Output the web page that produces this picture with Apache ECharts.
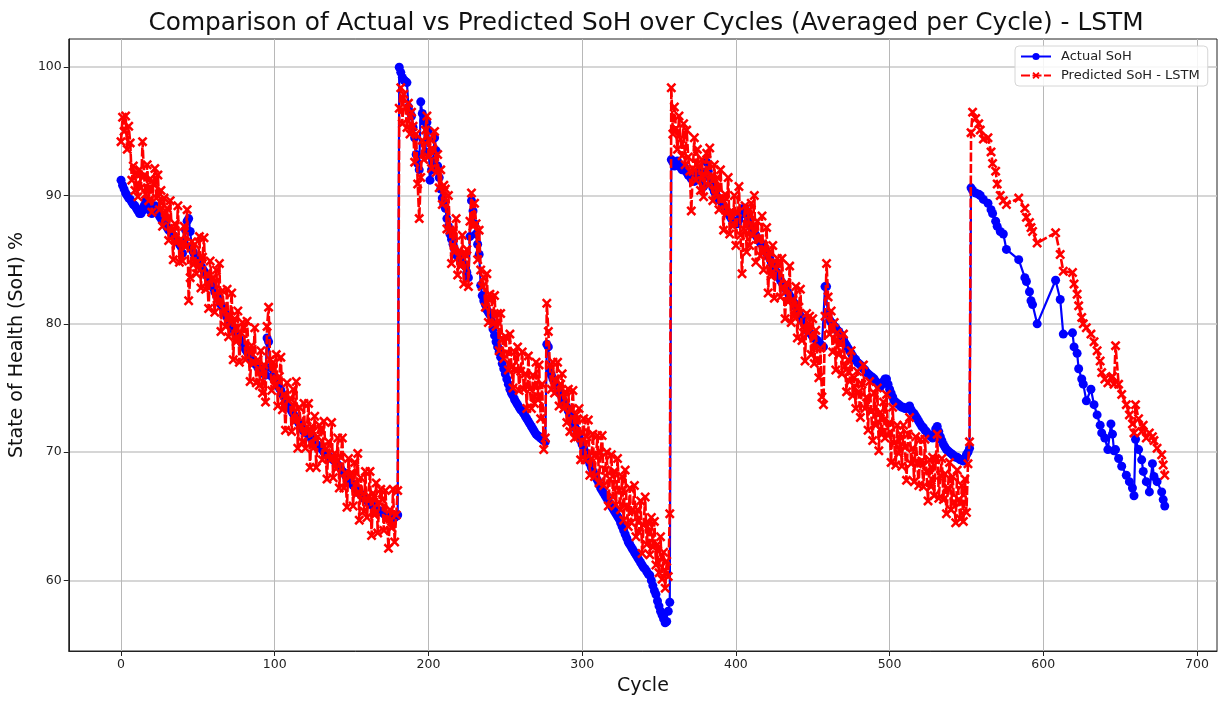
<!DOCTYPE html>
<html>
<head>
<meta charset="utf-8">
<script src="https://cdn.jsdelivr.net/npm/echarts@6/dist/echarts.min.js"></script>
<style>
html,body{margin:0;padding:0;background:#fff;}
#chart{width:1222px;height:706px;}
</style>
</head>
<body>
<div id="chart"></div>
<script>
// ---- Data ----
const xTicks = [0, 100, 200, 300, 400, 500, 600, 700];
const yTicks = [60, 70, 80, 90, 100];

// Segment start cycles (segments 1-3 have one point per cycle)
const seg1Start = 0, seg2Start = 181, seg3Start = 358;

const actualSeg1 = [
91.2,90.8,90.5,90.2,90.0,89.8,89.7,89.5,89.3,89.2,
89.0,88.8,88.6,88.6,88.8,89.2,89.6,89.4,89.0,88.8,
88.6,88.9,89.2,88.9,88.6,88.4,88.2,88.0,87.9,87.7,
87.5,87.3,87.2,87.0,86.9,86.7,86.5,86.4,86.2,86.0,
85.5,86.4,87.3,88.0,88.2,87.2,86.0,85.6,85.3,85.1,
84.9,84.7,84.5,84.3,84.1,83.9,83.7,83.5,83.3,83.1,
82.8,82.5,82.3,82.0,81.8,81.5,81.3,81.0,80.8,80.5,
80.3,80.1,79.9,79.6,79.4,79.2,79.0,78.8,78.6,78.4,
78.2,78.0,77.8,77.6,77.4,77.2,77.1,76.9,76.8,76.6,
76.5,76.4,76.2,76.1,76.0,78.9,78.6,76.6,75.9,75.8,
75.7,75.5,75.3,75.0,74.8,74.5,74.3,74.0,73.8,73.6,
73.4,73.2,73.0,72.8,72.6,72.4,72.2,72.0,71.8,71.6,
71.6,71.5,71.3,71.2,71.0,70.9,70.8,70.6,70.5,70.4,
70.3,70.2,70.0,69.9,69.8,69.7,69.6,69.5,69.4,69.3,
69.2,69.0,68.9,68.7,68.5,68.4,68.2,68.0,67.9,67.7,
67.6,67.4,67.3,67.1,67.0,66.8,66.7,66.6,66.4,66.3,
66.2,66.1,66.0,65.9,65.8,65.7,65.6,65.5,65.4,65.4,
65.3,65.2,65.1,65.0,64.9,64.9,64.8,64.8,64.9,65.0,
65.1];

const predictedSeg1 = [
94.2,96.1,95.0,96.2,93.6,95.4,94.1,91.2,92.3,90.4,
91.8,89.9,92.0,90.6,94.2,91.5,90.1,92.4,89.6,91.3,
88.7,90.9,92.1,89.8,91.6,88.9,90.4,87.6,89.8,88.2,
89.0,86.5,89.6,87.3,85.0,87.8,86.3,89.2,84.8,86.6,
84.9,87.6,86.0,88.9,81.8,83.6,86.4,84.6,86.2,83.9,
84.4,86.8,82.8,85.2,86.7,82.7,83.9,81.2,84.9,83.5,
83.6,80.9,84.2,81.6,84.7,79.4,82.6,81.1,79.8,82.7,
79.0,80.6,82.4,77.2,80.4,78.6,81.0,77.0,79.3,80.1,
79.7,77.2,80.2,77.9,75.5,78.3,76.9,79.7,75.4,77.2,
75.2,77.9,74.6,76.8,73.9,79.8,81.3,77.2,74.8,77.0,
75.2,77.6,73.6,75.9,77.4,73.3,74.5,71.7,75.4,74.0,
74.2,71.6,74.9,72.4,75.5,70.3,73.5,72.1,70.8,73.8,
70.3,72.0,73.8,68.8,72.0,70.3,72.8,68.8,71.2,72.1,
71.8,69.4,72.4,70.2,67.9,70.8,69.4,72.3,68.0,69.9,
68.7,71.1,67.2,69.6,71.1,67.2,68.4,65.7,69.5,68.1,
68.4,65.8,69.2,66.7,69.9,64.7,68.0,66.7,65.4,68.5,
64.9,66.6,68.5,63.5,66.8,65.1,67.6,63.7,66.1,67.1,
66.3,63.9,67.0,64.8,62.5,65.5,64.1,67.1,63.0,65.1,
67.0];

const actualSeg2 = [
100.0,99.6,99.2,99.0,98.9,98.8,96.9,96.5,96.2,95.3,
94.5,93.2,92.5,92.0,97.3,96.4,95.8,93.4,95.7,95.1,
91.2,92.0,92.7,94.5,93.5,92.3,91.4,90.5,89.8,89.3,
89.0,88.2,87.6,87.0,86.6,86.2,85.8,85.4,85.2,85.1,
85.0,84.8,84.6,84.5,84.0,83.6,86.8,89.6,88.8,87.8,
87.0,86.2,85.4,83.0,82.2,81.8,81.5,81.1,80.9,80.7,
80.2,79.6,79.1,78.6,78.2,77.8,77.4,76.9,76.5,76.1,
75.7,75.3,74.9,74.6,74.4,74.1,73.9,73.7,73.5,73.3,
73.2,73.0,72.8,72.6,72.4,72.2,72.0,71.8,71.6,71.4,
71.3,71.2,71.1,71.0,70.9,70.8,78.4,78.2,76.3,76.0,
75.7,75.5,75.2,75.0,74.7,74.5,74.2,74.0,73.7,73.5,
73.2,73.0,72.7,72.4,72.1,71.8,71.5,71.2,70.9,70.6,
70.3,70.0,69.7,69.4,69.1,68.8,68.5,68.3,68.0,67.8,
67.5,67.2,67.0,66.8,66.6,66.4,66.2,66.0,65.8,65.6,
65.4,65.2,65.0,64.8,64.5,64.2,63.9,63.6,63.3,63.0,
62.8,62.6,62.4,62.2,62.0,61.8,61.6,61.4,61.2,61.0,
60.9,60.7,60.5,60.4,60.0,59.6,59.2,58.9,58.4,58.0,
57.6,57.3,57.0,56.7,56.8,57.6,58.3];

const predictedSeg2 = [
96.8,98.4,95.6,97.9,96.9,95.3,97.2,94.8,96.5,95.4,
92.6,94.8,90.9,88.2,91.4,94.3,92.8,95.1,96.2,93.0,
94.4,92.1,93.6,95.0,91.8,93.2,90.6,92.0,89.3,90.8,
90.5,87.4,90.0,87.3,84.7,87.3,85.6,88.2,83.8,85.7,
84.5,86.9,83.1,85.4,85.8,82.9,88.0,90.2,87.6,89.4,
87.8,85.0,87.3,84.2,82.9,83.6,81.3,83.9,80.1,82.3,
82.0,80.0,82.2,79.8,80.8,77.9,80.8,78.8,77.3,79.0,
78.9,76.4,79.2,76.6,75.0,77.8,76.3,78.2,74.8,76.3,
77.8,74.9,76.1,73.4,77.5,74.9,73.4,76.0,73.8,77.0,
74.1,76.8,72.6,75.3,70.2,71.1,81.6,79.4,76.8,74.9,
77.0,74.6,75.6,77.0,73.6,75.3,76.1,73.4,74.7,72.3,
74.9,71.6,73.3,74.8,71.1,72.9,71.2,73.4,69.4,71.5,
72.6,69.4,71.2,72.5,68.2,69.5,71.4,68.1,69.8,71.3,
67.6,70.0,71.3,67.4,68.6,70.0,65.8,67.9,69.8,66.5,
68.5,65.9,69.5,67.0,65.5,68.1,64.7,68.6,65.7,64.2,
67.2,64.5,65.5,67.4,63.4,65.5,63.8,66.2,62.1,64.3,
66.5,62.8,64.5,62.0,64.9,62.6,64.6,61.2,62.8,60.6,
63.4,60.1,62.2,59.4,61.5,60.3,65.2];

const actualSeg3 = [
92.8,92.6,92.3,92.5,92.7,92.4,92.2,92.0,92.3,92.1,
91.8,91.6,91.5,91.3,91.2,91.1,91.4,91.7,91.9,91.9,
91.2,90.7,91.8,92.6,91.9,91.4,91.0,90.6,90.3,90.1,
89.9,89.7,89.6,89.4,89.2,89.0,88.8,88.6,88.4,88.2,
88.1,87.9,87.8,87.8,88.1,88.5,88.8,89.0,89.0,88.5,
88.0,87.7,87.5,87.3,87.1,86.9,86.7,86.5,86.3,86.2,
86.0,85.8,85.5,85.3,85.1,84.8,84.6,84.3,84.1,83.9,
83.6,83.4,83.2,83.0,82.8,82.6,82.4,82.2,82.0,81.8,
81.6,81.3,81.1,80.9,80.6,80.4,80.1,79.9,79.7,79.4,
79.3,79.2,79.0,78.9,78.8,78.7,78.5,78.4,78.3,78.2,
82.9,82.9,80.8,80.3,80.1,80.0,79.8,79.7,79.5,79.4,
79.2,79.0,78.8,78.5,78.3,78.1,77.9,77.7,77.5,77.3,
77.2,77.0,76.9,76.8,76.6,76.5,76.4,76.2,76.1,76.0,
75.9,75.8,75.7,75.5,75.4,75.2,75.1,75.3,75.5,75.7,
75.7,75.3,74.9,74.6,74.3,74.0,73.9,73.8,73.7,73.6,
73.5,73.5,73.4,73.4,73.5,73.6,73.3,73.1,73.0,72.8,
72.6,72.4,72.2,72.0,71.9,71.7,71.6,71.4,71.3,71.2,
71.1,71.4,71.8,72.0,71.6,71.2,70.9,70.6,70.4,70.2,
70.1,70.0,69.9,69.8,69.7,69.6,69.6,69.5,69.4,69.4,
69.3,69.5,69.8,70.0,70.3];

const predictedSeg3 = [
98.4,94.8,96.9,95.2,93.6,96.2,94.4,93.1,95.6,92.4,
95.1,93.0,91.9,88.8,92.1,94.5,91.2,93.6,92.3,90.4,
92.8,89.9,91.6,93.3,90.8,93.7,91.5,89.6,92.4,90.1,
91.4,88.9,92.0,89.7,87.3,90.1,88.6,91.4,87.0,88.8,
87.6,90.0,86.1,88.7,90.7,86.9,83.9,87.4,89.2,85.6,
88.8,86.1,89.4,86.9,90.0,84.8,88.0,86.6,85.3,88.4,
84.2,85.8,87.5,82.4,85.6,83.7,86.1,82.0,84.3,85.1,
84.6,82.1,85.1,82.8,80.4,83.2,81.7,84.5,80.1,81.9,
80.6,82.9,78.9,81.3,82.7,78.7,79.8,77.1,80.8,79.3,
80.6,77.6,80.4,76.9,79.5,77.2,75.8,78.1,74.3,73.7,
80.6,84.7,82.1,79.2,81.0,77.8,80.1,76.4,79.3,77.6,
78.6,76.1,79.2,76.7,74.7,77.2,75.5,77.9,74.4,75.8,
73.4,76.3,74.7,72.7,75.3,76.8,73.4,74.3,71.7,75.5,
73.2,70.9,74.6,72.1,75.0,70.1,73.1,71.4,73.9,71.1,
74.5,71.3,72.3,69.2,73.5,70.7,69.0,72.1,69.9,71.4,
68.9,72.1,70.4,67.8,71.4,72.7,69.1,70.3,67.7,71.2,
69.1,67.4,71.0,69.3,67.3,71.0,68.5,66.2,69.4,67.3,
69.6,66.6,69.4,71.4,66.4,68.2,69.5,66.3,68.3,65.2,
67.2,69.2,65.5,68.1,66.1,64.5,68.6,66.3,64.8,67.4,
64.6,67.9,65.3,69.1,70.8];

// Segment 4 has gaps in cycles
const seg4Cycles = [
553,554,556,558,559,561,564,566,567,569,
570,572,574,576,584,588,589,591,592,593,
596,608,611,613,619,620,622,623,625,626,
628,631,633,635,637,638,640,642,644,645,
646,647,649,651,654,656,658,659,660,662,
664,665,667,669,671,672,674,677,678,679];

const actualSeg4 = [
90.6,90.4,90.2,90.1,90.0,89.7,89.4,88.9,88.6,88.0,
87.6,87.2,87.0,85.8,85.0,83.6,83.3,82.5,81.8,81.5,
80.0,83.4,81.9,79.2,79.3,78.2,77.7,76.5,75.7,75.3,
74.0,74.9,73.7,72.9,72.1,71.5,71.1,70.2,72.2,71.4,
70.1,70.2,69.5,68.9,68.2,67.7,67.2,66.6,71.0,70.2,
69.4,68.5,67.7,66.9,69.1,68.1,67.7,66.9,66.3,65.8];

const predictedSeg4 = [
94.9,96.5,96.0,95.6,95.1,94.4,94.5,93.4,92.5,91.9,
90.9,90.0,89.6,89.3,89.8,89.0,88.3,87.9,87.5,87.2,
86.3,87.1,85.4,84.1,84.0,83.1,82.3,81.4,80.5,80.0,
79.7,79.2,78.6,77.9,77.1,76.2,75.7,75.4,75.8,75.9,
75.3,78.3,75.3,74.5,73.7,72.9,72.2,71.5,73.7,72.6,
71.6,72.1,71.1,71.5,71.2,70.9,70.3,69.8,69.0,68.2];

// ---- Build [x, y] pairs ----
function segPairs(start, values) { return values.map((v, i) => [start + i, v]); }
function listPairs(xs, values) { return values.map((v, i) => [xs[i], v]); }

const actualData = [].concat(
  segPairs(seg1Start, actualSeg1), segPairs(seg2Start, actualSeg2),
  segPairs(seg3Start, actualSeg3), listPairs(seg4Cycles, actualSeg4));
const predictedData = [].concat(
  segPairs(seg1Start, predictedSeg1), segPairs(seg2Start, predictedSeg2),
  segPairs(seg3Start, predictedSeg3), listPairs(seg4Cycles, predictedSeg4));

const FONT = "'DejaVu Sans', 'Liberation Sans', sans-serif";
// 'x' marker drawn as a filled cross outline
const crossPath = 'path://M1.8,0 L5,3.2 L8.2,0 L10,1.8 L6.8,5 L10,8.2 L8.2,10 L5,6.8 L1.8,10 L0,8.2 L3.2,5 L0,1.8 Z';

const chart = echarts.init(document.getElementById('chart'), null, {renderer: 'canvas'});
chart.setOption({
  animation: false,
  backgroundColor: '#ffffff',
  title: {
    text: 'Comparison of Actual vs Predicted SoH over Cycles (Averaged per Cycle) - LSTM',
    left: 641, top: 6, textAlign: 'center',
    textStyle: {fontFamily: FONT, fontSize: 24.8, fontWeight: 'normal', color: '#111'}
  },
  legend: {
    orient: 'vertical', left: 1015, top: 46, z: 10,
    padding: [4, 8, 4, 5], itemGap: 6, itemWidth: 30, itemHeight: 9,
    backgroundColor: 'rgba(255,255,255,0.85)', borderColor: '#d6d6d6', borderWidth: 1, borderRadius: 4,
    textStyle: {fontFamily: FONT, fontSize: 13, color: '#222', padding: [0, 0, 0, 5]},
    data: ['Actual SoH', 'Predicted SoH - LSTM']
  },
  grid: {left: 65, right: 5, top: 39, bottom: 55, show: true, borderColor: '#222', borderWidth: 1},
  xAxis: {
    type: 'value', min: -34, max: 713,
    name: 'Cycle', nameLocation: 'middle', nameGap: 26,
    nameTextStyle: {fontFamily: FONT, fontSize: 19, color: '#111'},
    axisLine: {show: true, onZero: false, lineStyle: {color: '#222', width: 1}},
    axisTick: {show: true, length: 5, customValues: xTicks, lineStyle: {color: '#222'}},
    axisLabel: {customValues: xTicks, fontFamily: FONT, fontSize: 12.5, color: '#222', margin: 7},
    splitLine: {show: true, lineStyle: {color: '#b8b8b8', width: 1}}
  },
  yAxis: {
    type: 'value', min: 54.5, max: 102.2,
    name: 'State of Health (SoH) %', nameLocation: 'middle', nameGap: 41,
    nameTextStyle: {fontFamily: FONT, fontSize: 19, color: '#111'},
    axisLine: {show: true, onZero: false, lineStyle: {color: '#222', width: 1}},
    axisTick: {show: true, length: 5, customValues: yTicks, lineStyle: {color: '#222'}},
    axisLabel: {customValues: yTicks, fontFamily: FONT, fontSize: 12.5, color: '#222', margin: 7},
    splitLine: {show: true, lineStyle: {color: '#c8c8c8', width: 1.5}}
  },
  series: [
    {
      name: 'Actual SoH', type: 'line', data: actualData, z: 2,
      symbol: 'circle', symbolSize: 9, showAllSymbol: true, showSymbol: true,
      itemStyle: {color: '#0000ff'},
      lineStyle: {color: '#0000ff', width: 2.2},
      emphasis: {disabled: true}
    },
    {
      name: 'Predicted SoH - LSTM', type: 'line', data: predictedData, z: 3,
      symbol: crossPath, symbolSize: 10, showAllSymbol: true, showSymbol: true,
      itemStyle: {color: '#ff0000'},
      lineStyle: {color: '#ff0000', width: 2.6, type: [9, 2.5]},
      emphasis: {disabled: true}
    }
  ]
});
</script>
</body>
</html>
